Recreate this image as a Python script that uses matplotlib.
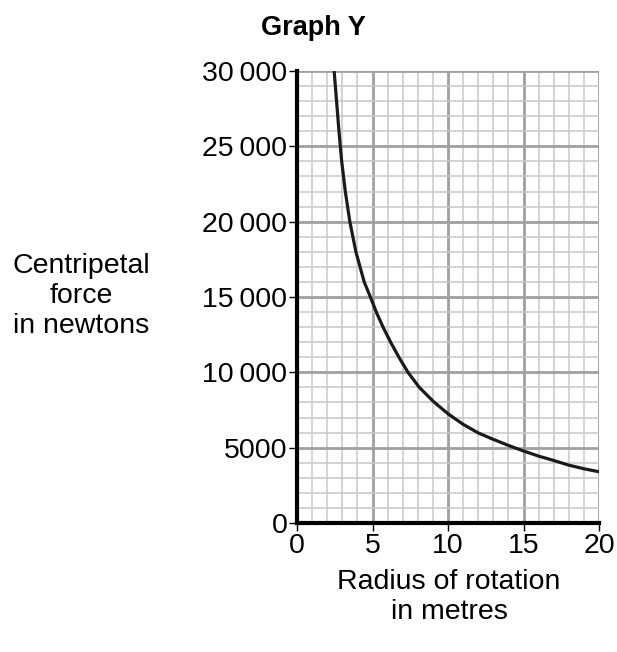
import matplotlib.pyplot as plt
import numpy as np

# values
radius = [2.46, 2.62, 2.78, 2.96, 3.2, 3.5, 3.9, 4.45, 4.9, 5.25, 5.7, 6.2,
          6.75, 7.35, 8.1, 9.05, 10.0, 11.0, 12.0, 13.0, 14.0, 15.0, 16.0,
          17.0, 18.0, 19.0, 20.0]
force = [30000, 28000, 26000, 24000, 22000, 20000, 18000, 16000, 14900,
         14000, 13000, 12000, 11000, 10000, 9000, 8050, 7250, 6550, 5980,
         5550, 5150, 4780, 4440, 4150, 3840, 3600, 3400]

x_ticks = [0, 5, 10, 15, 20]
y_ticks = [0, 5000, 10000, 15000, 20000, 25000, 30000]
y_labels = ['0', '5000', '10\u2009000', '15\u2009000', '20\u2009000',
            '25\u2009000', '30\u2009000']

plt.rcParams['font.family'] = ['Liberation Sans', 'DejaVu Sans']

fig = plt.figure(figsize=(6.17, 6.52), dpi=100)
ax = fig.add_axes([297/617, 1-523/652, 302/617, 452/652])

# graph paper
for xv in range(0, 21):
    major = xv % 5 == 0
    ax.axvline(xv, color='#a0a0a0' if major else '#c8c8c8',
               lw=2.0 if major else 1.1, zorder=1)
for yv in range(0, 30001, 1000):
    major = yv % 5000 == 0
    ax.axhline(yv, color='#a0a0a0' if major else '#c8c8c8',
               lw=2.0 if major else 1.1, zorder=1)

ax.plot(radius, force, color='#1a1a1a', lw=2.3, zorder=3,
        solid_capstyle='butt', solid_joinstyle='round')

ax.set_xlim(0, 20)
ax.set_ylim(0, 30000)
ax.set_xticks(x_ticks)
ax.set_yticks(y_ticks)
ax.set_yticklabels(y_labels)
ax.tick_params(labelsize=20.5, width=1, length=6, color='black', pad=1)

for s in ['top', 'right']:
    ax.spines[s].set_visible(False)
for s in ['left', 'bottom']:
    ax.spines[s].set_linewidth(3)
    ax.spines[s].set_zorder(4)

fig.text(313/617, 1-28/652, 'Graph Y', fontsize=19.5, fontweight='bold',
         ha='center', va='center')
fig.text(81/617, 1-296/652, 'Centripetal\nforce\nin newtons', fontsize=20.5,
         ha='center', va='center', linespacing=1.2)
fig.text(449/617, 1-597/652, 'Radius of rotation\nin metres', fontsize=20.5,
         ha='center', va='center', linespacing=1.2)

fig.savefig('out.png', dpi=100)
